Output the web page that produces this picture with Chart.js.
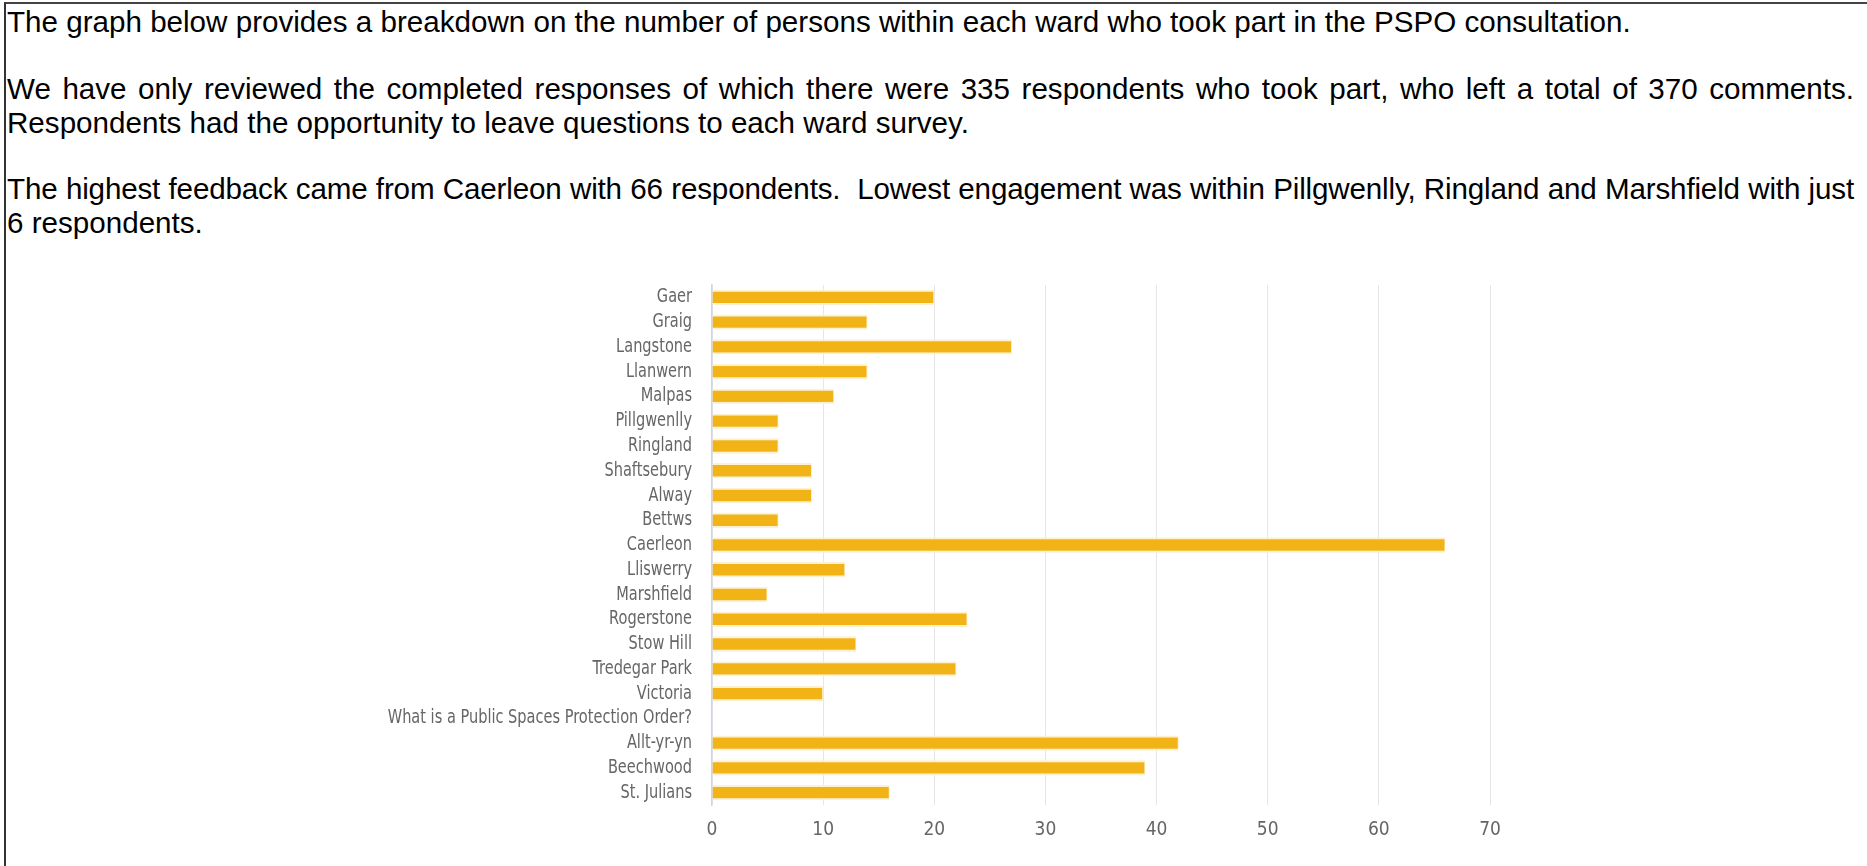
<!DOCTYPE html>
<html>
<head>
<meta charset="utf-8">
<script src="https://cdn.jsdelivr.net/npm/chart.js@4"></script>
<style>
    html, body {
        margin: 0;
        padding: 0;
        background: #ffffff;
        width: 1867px;
        height: 866px;
        overflow: hidden;
    }
    #frame {
        position: absolute;
        left: 4px;
        top: 2px;
        width: 1863px;
        height: 864px;
        border-top: 2px solid #444444;
        border-left: 2px solid #333333;
        box-sizing: border-box;
    }
    .line {
        position: absolute;
        left: 7px;
        width: 1847px;
        font-family: "Liberation Sans", Arial, sans-serif;
        font-size: 29.6px;
        line-height: 33px;
        color: #000000;
        white-space: nowrap;
    }
    .justify {
        text-align: justify;
        text-align-last: justify;
    }
    .tight {
        letter-spacing: -0.16px;
    }
    #chart-wrap {
        position: absolute;
        left: 0;
        top: 0;
        width: 1867px;
        height: 866px;
    }
</style>
</head>
<body>
<div id="frame"></div>
<div class="line" style="top:5px">The graph below provides a breakdown on the number of persons within each ward who took part in the PSPO consultation.</div>
<div class="line justify" style="top:72px">We have only reviewed the completed responses of which there were 335 respondents who took part, who left a total of 370 comments.</div>
<div class="line" style="top:106px">Respondents had the opportunity to leave questions to each ward survey.</div>
<div class="line justify tight" style="top:172px">The highest feedback came from Caerleon with 66 respondents.&nbsp; Lowest engagement was within Pillgwenlly, Ringland and Marshfield with just</div>
<div class="line" style="top:206px">6 respondents.</div>
<div id="chart-wrap"><canvas id="ward-chart" width="1867" height="866"></canvas></div>

<script>
// ward names, top to bottom as in the chart
const wards = [
    'Gaer', 'Graig', 'Langstone', 'Llanwern', 'Malpas', 'Pillgwenlly',
    'Ringland', 'Shaftsebury', 'Alway', 'Bettws', 'Caerleon', 'Lliswerry',
    'Marshfield', 'Rogerstone', 'Stow Hill', 'Tredegar Park', 'Victoria',
    'What is a Public Spaces Protection Order?', 'Allt-yr-yn', 'Beechwood',
    'St. Julians'
];

// respondents per ward (no bar for the question row)
const respondents = [
    20, 14, 27, 14, 11, 6,
    6, 9, 9, 6, 66, 12,
    5, 23, 13, 22, 10,
    null, 42, 39,
    16
];

// values shown on the x axis
const xTicks = [0, 10, 20, 30, 40, 50, 60, 70];

const labelFont = '"DejaVu Sans Condensed", "DejaVu Sans", sans-serif';

// the original labels are narrower than any installed font,
// so squeeze the category labels sideways around their right edge
const narrowYLabels = {
    id: 'narrowYLabels',
    afterLayout(chart, args, opts) {
        const scale = chart.scales.y;
        if (scale._narrowed) return;
        const draw = scale.drawLabels.bind(scale);
        scale.drawLabels = (area) => {
            const ctx = chart.ctx;
            const x0 = scale.right - opts.padding;
            ctx.save();
            ctx.translate(x0, 0);
            ctx.scale(opts.ratio, 1);
            ctx.translate(-x0, 0);
            draw(area);
            ctx.restore();
        };
        scale._narrowed = true;
    }
};

class WardChart {
    constructor() {
        this.ctx = document.getElementById('ward-chart').getContext('2d');
        this.chart = null;
        this.initChart();
    }

    initChart() {
        this.chart = new Chart(this.ctx, {
            type: 'bar',
            data: {
                labels: wards,
                datasets: [{
                    label: 'Respondents',
                    data: respondents,
                    backgroundColor: '#f2b316',
                    borderColor: '#fdf1d2',
                    borderWidth: { top: 2, bottom: 2, right: 1, left: 0 },
                    borderSkipped: false,
                    categoryPercentage: 1,
                    barPercentage: 0.62
                }]
            },
            plugins: [narrowYLabels],
            options: {
                indexAxis: 'y',
                responsive: false,
                animation: false,
                devicePixelRatio: 1,
                layout: {
                    padding: { top: 285, left: 0, right: 377, bottom: 0 }
                },
                plugins: {
                    legend: { display: false },
                    tooltip: { enabled: false },
                    title: { display: false },
                    narrowYLabels: { ratio: 0.83, padding: 20 }
                },
                scales: {
                    x: {
                        min: 0,
                        max: 70,
                        afterBuildTicks: (scale) => {
                            scale.ticks = xTicks.map(v => ({ value: v }));
                        },
                        afterFit: (scale) => {
                            scale.height = 61;
                        },
                        grid: {
                            color: '#e6e6e6',
                            lineWidth: 1,
                            drawTicks: false
                        },
                        border: { display: false },
                        ticks: {
                            padding: 14,
                            color: '#666666',
                            font: { family: labelFont, size: 19 }
                        }
                    },
                    y: {
                        afterFit: (scale) => {
                            scale.width = 712;
                        },
                        grid: {
                            display: false,
                            drawTicks: false
                        },
                        border: {
                            display: true,
                            color: '#ccd6eb',
                            width: 1.5
                        },
                        ticks: {
                            padding: 20,
                            color: '#666666',
                            autoSkip: false,
                            font: { family: labelFont, size: 19.5 }
                        }
                    }
                }
            }
        });
    }
}

document.addEventListener('DOMContentLoaded', () => {
    new WardChart();
});
</script>
</body>
</html>
